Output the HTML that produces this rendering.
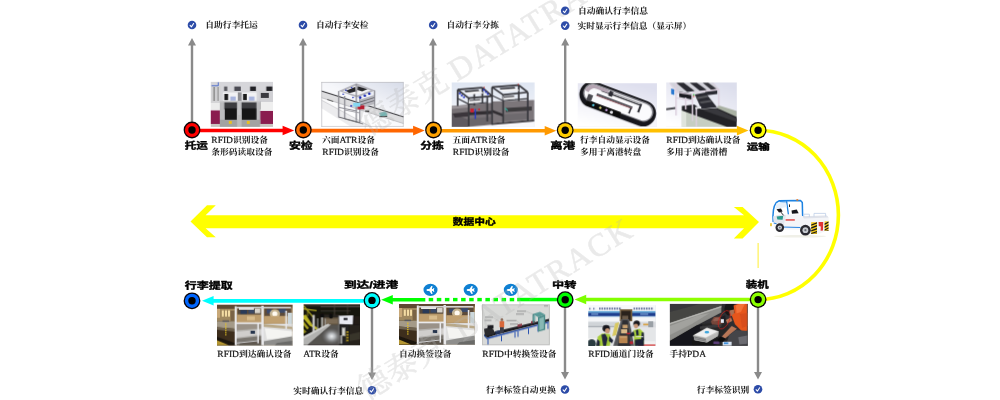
<!DOCTYPE html>
<html lang="zh">
<head>
<meta charset="utf-8">
<title>RFID 行李全流程跟踪</title>
<style>
html,body{margin:0;padding:0;background:#fff}
body{width:1000px;height:400px;overflow:hidden;font-family:"Liberation Serif","Noto Serif CJK SC",serif}
svg{display:block;will-change:transform}
text{font-family:"Liberation Serif","Noto Serif CJK SC",serif;font-weight:bold;text-rendering:geometricPrecision}
.c{fill:#151515;stroke:none}
.l{fill:#151515;font-weight:normal;stroke:#151515;stroke-width:.22px}
.hd text{font-family:"Liberation Sans","Noto Sans CJK SC",sans-serif;font-weight:bold;fill:#000;stroke:#000;stroke-width:.4px;stroke-linejoin:round}
</style>
</head>
<body>
<svg width="1000" height="400" viewBox="0 0 1000 400">
<defs>
<linearGradient id="g67" gradientUnits="userSpaceOnUse" x1="758" y1="0" x2="575" y2="0"><stop offset="0" stop-color="#99ff00"/><stop offset="1" stop-color="#7cff00"/></linearGradient>

<filter id="soft" x="-5%" y="-5%" width="110%" height="110%"><feGaussianBlur stdDeviation="0.45"/></filter>
<filter id="soft2" x="-5%" y="-5%" width="110%" height="110%"><feGaussianBlur stdDeviation="0.3"/></filter>
<radialGradient id="p11spot"><stop offset="0" stop-color="#f0f2f4"/><stop offset="0.35" stop-color="#c4c8cc" stop-opacity="0.85"/><stop offset="1" stop-color="#707070" stop-opacity="0"/></radialGradient>
<linearGradient id="p2bg" x1="1" y1="0" x2="0.35" y2="0.8"><stop offset="0" stop-color="#d6dbe8"/><stop offset="0.6" stop-color="#f5f6fa"/><stop offset="1" stop-color="#ffffff"/></linearGradient>
<linearGradient id="p3bg" x1="0" y1="0" x2="0" y2="1"><stop offset="0" stop-color="#dfe6f2"/><stop offset="1" stop-color="#f9f9fc"/></linearGradient>
<linearGradient id="p4bg" x1="0.7" y1="0" x2="0.3" y2="1"><stop offset="0" stop-color="#dedfee"/><stop offset="0.7" stop-color="#f6f6fb"/><stop offset="1" stop-color="#ffffff"/></linearGradient>
<linearGradient id="p5bg" x1="0.8" y1="0" x2="0.2" y2="1"><stop offset="0" stop-color="#dcdeec"/><stop offset="0.7" stop-color="#f4f4fa"/><stop offset="1" stop-color="#ffffff"/></linearGradient>
</defs>
<path d="M190.8 124 V45.6 H188 L192 38 L196 45.6 H193.2 V124Z" fill="#8a8a8a"/>
<path d="M301.8 124 V45.6 H299 L303 38 L307 45.6 H304.2 V124Z" fill="#8a8a8a"/>
<path d="M431.8 124 V45.6 H429 L433 38 L437 45.6 H434.2 V124Z" fill="#8a8a8a"/>
<path d="M564 124 V45.6 H561.2 L565.2 38 L569.2 45.6 H566.4 V124Z" fill="#8a8a8a"/>
<path d="M370.8 306 V372.4 H368 L372 380 L376 372.4 H373.2 V306Z" fill="#8a8a8a"/>
<path d="M563.8 306 V371.9 H561 L565 379.5 L569 371.9 H566.2 V306Z" fill="#8a8a8a"/>
<path d="M756.8 306 V371.9 H754 L758 379.5 L762 371.9 H759.2 V306Z" fill="#8a8a8a"/>
<rect x="757.6" y="243" width="1" height="25" fill="#ffee33"/>
<path d="M190.5 221.5 L207 205.3 H215.8 L205.6 215.2 H744 L733.8 207 H742.6 L759 222 L742.6 238.5 H733.8 L744 228.3 H205.6 L215.8 237.3 H207Z" fill="#ffff00"/>
<path d="M758 130.3 A80.4 84.6 0 0 1 758 299.5" fill="none" stroke="#ffff00" stroke-width="3.6"/>
<svg x="210.8" y="81.9" width="62.2" height="44.8" viewBox="0 0 62.2 44.8"><rect x="-2" y="-2" width="66.2" height="48.8" fill="#e4e4e8"/><g filter="url(#soft)"><rect x="-2" y="-2" width="67" height="22" fill="#d6d6da"/><rect x="13.3" y="4.6" width="3.2" height="4.4" fill="#5a5a60"/><rect x="23.5" y="4.6" width="6.5" height="4.4" fill="#4c4c52"/><rect x="39.3" y="4.6" width="5.8" height="4.4" fill="#222226"/><rect x="55.5" y="4.6" width="6" height="4.4" fill="#222226"/><rect x="0" y="4" width="10" height="17" fill="#d4d4d6"/><rect x="2.5" y="5" width="1.6" height="14" fill="#8a8a8a"/><rect x="6.5" y="5" width="1.4" height="14" fill="#9a9a9a"/><rect x="48" y="9" width="15" height="11" fill="#d0d0d4"/><rect x="50" y="11" width="8" height="5" fill="#3a3a40"/><rect x="12" y="10.5" width="15" height="9.5" fill="#f2f2f4"/><rect x="30.7" y="10.5" width="15" height="9.5" fill="#f2f2f4"/><rect x="27" y="10.5" width="3.7" height="9.5" fill="#8e8e92"/><rect x="13.5" y="12" width="3.8" height="6.2" fill="#1a1a1e"/><rect x="32.2" y="12" width="3.8" height="6.2" fill="#1a1a1e"/><rect x="19.5" y="14.6" width="5.4" height="4.2" fill="#a8b4de"/><rect x="38.2" y="14.6" width="5.4" height="4.2" fill="#a8b4de"/><rect x="-1" y="21" width="10" height="8" fill="#ececec"/><rect x="49.5" y="20" width="14" height="9.5" fill="#efefef"/><rect x="-1" y="28.5" width="10" height="13.5" fill="#8a1a50"/><rect x="48.7" y="29" width="15" height="13" fill="#8a1a50"/><rect x="9" y="19.5" width="40.5" height="8" fill="#5a5a5e"/><rect x="13.5" y="20.5" width="13" height="6.5" fill="#3c3c40"/><rect x="30.7" y="20.5" width="15" height="6.5" fill="#3c3c40"/><rect x="13.8" y="26.5" width="12.6" height="11.5" fill="#141416"/><rect x="30.7" y="26.5" width="15.3" height="11.5" fill="#141416"/><rect x="9" y="19" width="4.5" height="27" fill="#bcbcbe"/><rect x="26.2" y="19" width="4.5" height="27" fill="#c4c4c6"/><rect x="45.7" y="19" width="3.8" height="27" fill="#bcbcbe"/><rect x="9" y="18.8" width="40.5" height="1.6" fill="#c8c8ca"/><rect x="9" y="37.8" width="40.5" height="8" fill="#a2a2a2"/><rect x="26.2" y="33" width="4.5" height="13" fill="#bcbcbc"/><rect x="18" y="39" width="3" height="3" fill="#e8c020"/><rect x="36" y="39" width="3" height="3" fill="#e8c020"/><rect x="-1" y="42" width="10" height="4" fill="#c8c4c0"/><rect x="49.5" y="42" width="14" height="4" fill="#c8c4c0"/><path d="M0.7 3.8 H7.4 V0.4" fill="none" stroke="#2a50c8" stroke-width="0.8"/></g></svg><svg x="321.2" y="81.9" width="82.5" height="45" viewBox="0 0 82.5 45"><rect x="-2" y="-2" width="86.5" height="49" fill="#fff"/><g filter="url(#soft)"><rect x="0" y="0" width="82.5" height="45" fill="url(#p2bg)"/><polygon points="0,9.3 82.5,35.3 82.5,41.5 0,15.5" fill="#dedee0"/><line x1="0" y1="9.1" x2="82.5" y2="35.1" stroke="#3c3c40" stroke-width="1.1"/><line x1="0" y1="15.6" x2="82.5" y2="41.6" stroke="#b4b4b8" stroke-width="0.8"/><polygon points="0,18 50,45 30,45 0,26" fill="#ececee"/><line x1="0" y1="18" x2="50" y2="45" stroke="#c4c4c8" stroke-width="0.7"/><line x1="6" y1="17.5" x2="12" y2="19.5" stroke="#555" stroke-width="0.9"/><polygon points="17.5,9.1 35.1,1.3 54,8.5 35.8,15.6" fill="#b4b4bc"/><polygon points="21.5,9.3 34.8,3.4 49.5,8.6 35.8,13.4" fill="#f4f4f6"/><polygon points="24.7,8.8 34,5 34.5,9.6 28,11.2" fill="#26262a"/><polygon points="36.4,4.3 46.2,7.2 41,9.4 36.2,8" fill="#26262a"/><line x1="17.5" y1="9.1" x2="17.5" y2="35.5" stroke="#8c8c94" stroke-width="1.3"/><line x1="35.1" y1="2" x2="35.1" y2="40.5" stroke="#8c8c94" stroke-width="1.3"/><line x1="53.4" y1="8.5" x2="53.4" y2="26" stroke="#8c8c94" stroke-width="1.3"/><line x1="23.5" y1="14" x2="23.5" y2="37" stroke="#8c8c94" stroke-width="1.3"/><line x1="38.6" y1="15" x2="38.6" y2="41" stroke="#8c8c94" stroke-width="1.3"/><line x1="17.5" y1="25.4" x2="35.5" y2="29" stroke="#8c8c94" stroke-width="1"/><line x1="17.5" y1="35.1" x2="38.6" y2="40.6" stroke="#66666c" stroke-width="1"/><line x1="23.5" y1="28" x2="38.6" y2="31" stroke="#9a9aa0" stroke-width="0.9"/><line x1="23.5" y1="37" x2="42" y2="42" stroke="#77777c" stroke-width="0.9"/><polygon points="39,17.5 53,13 53,22 39,26.5" fill="#b8b8c0"/><line x1="39" y1="20" x2="53" y2="15.6" stroke="#66666c" stroke-width="0.9"/><line x1="39" y1="23" x2="53" y2="18.6" stroke="#66666c" stroke-width="0.9"/><circle cx="39" cy="15.6" r="1.3" fill="#1c2cb4"/><circle cx="43.6" cy="13.7" r="1.3" fill="#1c2cb4"/><circle cx="48.1" cy="11.7" r="1.3" fill="#1c2cb4"/><circle cx="30.5" cy="5.8" r="0.8" fill="#1c2cb4"/><circle cx="24.7" cy="8.4" r="0.8" fill="#1c2cb4"/><circle cx="22" cy="12.3" r="0.8" fill="#1c2cb4"/><circle cx="31.8" cy="15.6" r="0.8" fill="#1c2cb4"/><circle cx="30" cy="24" r="0.9" fill="#1c2cb4"/><rect x="36.4" y="23.4" width="6.8" height="4" fill="#b61e2e"/><rect x="31.9" y="20.8" width="7.2" height="3.9" fill="#86d8f2"/><polygon points="57.9,31 64,29.5 66,31.5 66,34.5 59.5,35" fill="#74b4b2"/><line x1="58" y1="34.8" x2="66" y2="34.4" stroke="#333" stroke-width="0.9"/><rect x="44" y="28.5" width="4" height="1.6" fill="#444"/><rect x="0.3" y="0.3" width="81.9" height="44.4" fill="none" stroke="#bcbcc0" stroke-width="0.7"/></g></svg><svg x="451.75" y="82.5" width="82.45" height="44.3" viewBox="0 0 82.45 44.3"><rect x="-2" y="-2" width="86.45" height="48.3" fill="#eef2f8"/><g filter="url(#soft)"><rect x="0" y="0" width="82.5" height="44.4" fill="url(#p3bg)"/><polygon points="0,23.6 40.3,20.2 40.3,42.3 16,44.4 0,44.4" fill="#787276"/><polygon points="40.3,19 82.5,17.6 82.5,37 40.3,40.4" fill="#7c767a"/><polygon points="0,23.6 17,22.2 17,25 0,26.6" fill="#9a9498"/><polygon points="0,30.5 16,37 16,44.4 0,44.4" fill="#5e5a60"/><polygon points="1,31 16,29.5 16,34 3,35" fill="#3a363a"/><polygon points="17,29.6 40,28.2 40,31.4 17,32.8" fill="#302e32"/><polygon points="54,25.6 80,24 80,28 54,29.6" fill="#3c3a3e"/><polygon points="41,27.6 52,31.8 52,34.4 41,30.2" fill="#302e32"/><polygon points="40.3,40.4 82.5,37 82.5,39 40.3,42.6" fill="#444246"/><polygon points="17,36 39,34.5 39,41.5 17,43.5" fill="#6a666a"/><polygon points="52,32 76,30.4 76,36.5 52,38.6" fill="#6e6a6e"/><line x1="5.9" y1="7.2" x2="5.9" y2="23.4" stroke="#38383e" stroke-width="1.7"/><line x1="16.9" y1="15.6" x2="16.9" y2="44" stroke="#38383e" stroke-width="1.7"/><line x1="30.6" y1="5.2" x2="30.6" y2="21" stroke="#38383e" stroke-width="1.7"/><line x1="40.3" y1="4.6" x2="40.3" y2="42.3" stroke="#38383e" stroke-width="1.7"/><line x1="51.4" y1="12.4" x2="51.4" y2="41" stroke="#38383e" stroke-width="1.7"/><line x1="67" y1="2.6" x2="67" y2="18.4" stroke="#38383e" stroke-width="1.7"/><line x1="76" y1="9.75" x2="76" y2="38.4" stroke="#38383e" stroke-width="1.7"/><line x1="22.5" y1="9.5" x2="22.5" y2="23" stroke="#38383e" stroke-width="1.7"/><line x1="35.5" y1="14" x2="35.5" y2="39" stroke="#38383e" stroke-width="1.7"/><line x1="5.9" y1="7.2" x2="30.6" y2="5.2" stroke="#38383e" stroke-width="1.7"/><line x1="5.9" y1="7.2" x2="16.9" y2="15.6" stroke="#38383e" stroke-width="1.7"/><line x1="16.9" y1="15.6" x2="40.3" y2="13.7" stroke="#38383e" stroke-width="1.7"/><line x1="30.6" y1="5.2" x2="40.3" y2="13.7" stroke="#38383e" stroke-width="1.7"/><line x1="40.3" y1="4.6" x2="67" y2="2.6" stroke="#38383e" stroke-width="1.7"/><line x1="40.3" y1="4.6" x2="51.4" y2="12.4" stroke="#38383e" stroke-width="1.7"/><line x1="51.4" y1="12.4" x2="76" y2="9.75" stroke="#38383e" stroke-width="1.7"/><line x1="67" y1="2.6" x2="76" y2="9.75" stroke="#38383e" stroke-width="1.7"/><line x1="5.9" y1="16" x2="16.9" y2="21.6" stroke="#38383e" stroke-width="1.2"/><line x1="16.9" y1="21.6" x2="36" y2="20" stroke="#38383e" stroke-width="1.2"/><line x1="51.4" y1="18.2" x2="76" y2="16.2" stroke="#38383e" stroke-width="1.2"/><line x1="40.3" y1="13" x2="51.4" y2="18.2" stroke="#38383e" stroke-width="1.1"/><polygon points="11,8.6 27,7.4 32,10.8 16.5,12.2" fill="#f2f2f4"/><polygon points="46,6 63,4.8 68,8.2 51.5,9.6" fill="#f2f2f4"/><polygon points="12.5,8.3 26.5,7.2 27.8,8.6 13.8,9.7" fill="#26262c"/><polygon points="47.5,5.7 62.5,4.6 63.8,6 48.8,7.1" fill="#26262c"/><polygon points="16.9,17.2 29,16.2 29,20 16.9,21" fill="#e8e8ea"/><polygon points="51.4,13.8 63,12.8 63,16.6 51.4,17.6" fill="#e8e8ea"/><polygon points="17.5,17.4 28.4,16.5 28.4,17.7 17.5,18.6" fill="#4a4a50"/><polygon points="52,14 62.4,13.1 62.4,14.3 52,15.2" fill="#4a4a50"/><circle cx="8" cy="11" r="1" fill="#2232c4"/><circle cx="10" cy="13" r="1" fill="#2232c4"/><circle cx="12.2" cy="14.8" r="1" fill="#2232c4"/><circle cx="32" cy="7.6" r="1" fill="#2232c4"/><circle cx="34.2" cy="9.6" r="1" fill="#2232c4"/><circle cx="36" cy="11.4" r="1" fill="#2232c4"/><rect x="18.6" y="26" width="3.4" height="4" fill="#c82030"/><rect x="22.8" y="26.5" width="1.4" height="10" fill="#2838c8"/><rect x="26.5" y="26" width="1.6" height="1.8" fill="#c82030"/><line x1="53.2" y1="25.6" x2="56" y2="28.4" stroke="#38b0a0" stroke-width="1.3"/><circle cx="32.4" cy="5" r="0.7" fill="#c03030"/><circle cx="66.5" cy="2" r="0.7" fill="#c03030"/></g></svg><svg x="577.8" y="83.25" width="79.2" height="43.55" viewBox="0 0 79.2 43.55"><rect x="-2" y="-2" width="83.2" height="47.55" fill="#eeeef6"/><g filter="url(#soft)"><rect x="0" y="0" width="79.2" height="43.6" fill="url(#p4bg)"/><g transform="translate(39.9 20.8) rotate(20.5)"><rect x="-40" y="-12.4" width="80" height="26" rx="13" fill="#c4c4ca"/><rect x="-40" y="-13.2" width="80" height="26" rx="13" fill="#17171a"/><rect x="-36.8" y="-11.2" width="73.6" height="19.2" rx="9.6" fill="#8e8e96"/><rect x="-35.4" y="-9.8" width="70.8" height="16.8" rx="8.4" fill="#fbfbfd"/><rect x="-20" y="-7.6" width="42" height="1.5" fill="#3a3a40"/><rect x="-23" y="-2.8" width="38" height="2.0" fill="#55555c"/><rect x="-23" y="-1.0" width="38" height="0.8" fill="#8c4a52"/><rect x="-8" y="-8.8" width="31" height="1.2" fill="#a0a0a6"/><rect x="21" y="-8" width="2" height="8.6" fill="#2a2a30"/><rect x="13" y="-1" width="1.6" height="6" fill="#2a2a30"/><rect x="-12" y="-9.6" width="4" height="5" fill="#2a2a30"/><path d="M-35.4 -1.4 A8.4 8.4 0 0 1 -27 -9.8 H-13 V-6.8 H-25.5 A6 6 0 0 0 -31.5 -0.8Z" fill="#b4a4b2"/><rect x="-30" y="6.6" width="36" height="5.6" fill="#0c0c0e"/><circle cx="-22.5" cy="9.6" r="1.2" fill="#58d0e8"/><circle cx="-15" cy="9.6" r="1.2" fill="#e8e080"/><circle cx="-8.5" cy="9.6" r="1.2" fill="#c8a0e0"/><circle cx="-3" cy="10" r="1.6" fill="#e8e8ee"/><rect x="-31" y="0.5" width="5" height="7" fill="#4a4a50"/></g></g></svg><svg x="666.25" y="82.5" width="70.45" height="44.3" viewBox="0 0 70.45 44.3"><rect x="-2" y="-2" width="74.45" height="48.3" fill="#f0f0f6"/><g filter="url(#soft)"><rect x="0" y="0" width="70.5" height="44.4" fill="url(#p5bg)"/><polygon points="0,25.8 9.5,24.6 9.5,26.6 0,27.8" fill="#4a4a50"/><polygon points="15.6,27.5 61,43.8 61,44.4 15.6,44.4" fill="#c6cec2"/><polygon points="15.6,27.5 20,29 20,44.4 15.6,44.4" fill="#dfe4dc"/><polygon points="52,22.8 70.5,28.4 70.5,35 50.7,25.8" fill="#aab2a4"/><polygon points="15.6,23.4 28,22.1 35.1,26.7 50.7,25.4 70.5,34.5 70.5,44.4 61,44.4 15.6,28" fill="#232326"/><polygon points="36,27.5 50,26.3 70.5,36 70.5,39.5" fill="#38383c"/><polygon points="28.6,11.9 39,9.9 50.7,24.8 35.1,26.4" fill="#2c2c30"/><polygon points="30.6,14.8 41,12.8 42.4,14.6 32,16.6" fill="#5a5a60"/><polygon points="33.4,19.2 44.6,17.4 46,19.2 34.8,21" fill="#56565c"/><polygon points="3.5,0.3 47,0.3 53,7 12,10" fill="#d2d2da"/><polygon points="10,0.3 17.5,0.3 28.5,8.6 21,9.4" fill="#2c2c32"/><polygon points="23.5,0.3 30.5,0.3 40.5,7.6 33.6,8.3" fill="#2c2c32"/><polygon points="36.5,0.3 42,0.3 50.5,6.6 45,7.2" fill="#34343a"/><polygon points="13,9.3 25.4,11.2 25.4,17 13,14.6" fill="#1e1e22"/><polygon points="39,8.8 51,7.4 51,11.6 39,13" fill="#2a2a30"/><line x1="9.8" y1="0.6" x2="9.8" y2="33" stroke="#dcd0de" stroke-width="1.5"/><line x1="26.3" y1="12" x2="26.3" y2="38.5" stroke="#dcd0de" stroke-width="1.5"/><line x1="30.2" y1="25" x2="30.2" y2="44.2" stroke="#dcd0de" stroke-width="1.5"/><line x1="52.6" y1="7" x2="52.6" y2="23.4" stroke="#dcd0de" stroke-width="1.5"/><line x1="19.5" y1="15" x2="19.5" y2="27" stroke="#dcd0de" stroke-width="1.5"/><line x1="9.8" y1="9.6" x2="26.3" y2="12.2" stroke="#dcd0de" stroke-width="1.3"/><line x1="26.3" y1="10.4" x2="52.6" y2="7" stroke="#dcd0de" stroke-width="1.3"/><line x1="3.5" y1="0.5" x2="9.8" y2="9.6" stroke="#dcd0de" stroke-width="1"/><line x1="9.8" y1="15.4" x2="26.3" y2="18.4" stroke="#dcd0de" stroke-width="1"/><line x1="47" y1="0.4" x2="52.6" y2="7" stroke="#dcd0de" stroke-width="1"/><polygon points="29,24.5 35,24 35,26 29,26.6" fill="#ececf0"/><polygon points="4.9,5.9 8,7 8,12.6 4.9,11.4" fill="#2a78d0"/><circle cx="27.6" cy="12.4" r="0.8" fill="#30c040"/><circle cx="27.6" cy="13.9" r="0.7" fill="#d03030"/></g></svg><svg x="588.25" y="305.2" width="67.15" height="40.8" viewBox="0 0 67.15 40.8"><rect x="-2" y="-2" width="71.15" height="44.8" fill="#f4f5f7"/><g filter="url(#soft)"><rect x="-1" y="-1" width="70" height="44" fill="#eceef0"/><rect x="0" y="0" width="67.2" height="4.5" fill="#f6f8fa"/><rect x="0" y="3.5" width="67.2" height="17" fill="#f5f6f8"/><rect x="0" y="5.9" width="67.2" height="1.9" fill="#5aa2d6"/><rect x="0" y="7.6" width="67.2" height="3.3" fill="#1c3e8e"/><rect x="0" y="10.9" width="67.2" height="0.8" fill="#9cc2e2"/><rect x="3" y="8.2" width="7" height="1.5" fill="#6a90c8"/><rect x="52" y="8.2" width="8" height="1.5" fill="#6a90c8"/><rect x="11" y="2.4" width="1.3" height="2" fill="#3c4c84"/><rect x="13.5" y="2.4" width="1.3" height="2" fill="#3c4c84"/><rect x="16" y="2.4" width="1.3" height="2" fill="#3c4c84"/><rect x="18.5" y="2.4" width="1.3" height="2" fill="#3c4c84"/><rect x="21" y="2.4" width="1.3" height="2" fill="#3c4c84"/><rect x="23.5" y="2.4" width="1.3" height="2" fill="#3c4c84"/><rect x="26" y="2.4" width="1.3" height="2" fill="#3c4c84"/><rect x="28.5" y="2.4" width="1.3" height="2" fill="#3c4c84"/><rect x="31" y="2.4" width="1.3" height="2" fill="#3c4c84"/><rect x="45.5" y="2.4" width="1.3" height="2" fill="#3c4c84"/><rect x="48" y="2.4" width="1.3" height="2" fill="#3c4c84"/><rect x="50.5" y="2.4" width="1.3" height="2" fill="#3c4c84"/><rect x="53" y="2.4" width="1.3" height="2" fill="#3c4c84"/><rect x="55.5" y="2.4" width="1.3" height="2" fill="#3c4c84"/><rect x="58" y="2.4" width="1.3" height="2" fill="#3c4c84"/><rect x="60.5" y="2.4" width="1.3" height="2" fill="#3c4c84"/><rect x="63" y="2.4" width="1.3" height="2" fill="#3c4c84"/><rect x="1" y="2.6" width="1.2" height="1.8" fill="#5a6a98"/><rect x="5" y="2.6" width="1.2" height="1.8" fill="#5a6a98"/><rect x="31.6" y="4" width="12.5" height="12" fill="#7a6242"/><rect x="33" y="5.6" width="9.6" height="9.6" fill="#2a221c"/><rect x="34" y="10.5" width="6" height="4.5" fill="#6a5a48"/><rect x="0" y="16.5" width="31" height="4.5" fill="#d0d4d8"/><rect x="43.6" y="16.5" width="24" height="6" fill="#d8dade"/><rect x="0" y="20.8" width="26" height="1.4" fill="#a8aeb4"/><rect x="55" y="18.5" width="8" height="1.6" fill="#d8a040"/><rect x="60" y="16" width="5" height="6" fill="#9aa0a6"/><rect x="0" y="22.4" width="67.2" height="19" fill="#e4e6e8"/><rect x="0" y="33" width="8" height="8" fill="#f2f2f2"/><rect x="44" y="36" width="23.2" height="3.6" fill="#f0f0f0"/><rect x="50" y="39.2" width="17.2" height="1.6" fill="#d85050"/><polygon points="33,14 41,14 46,40.8 25,40.8" fill="#55565a"/><polygon points="34.5,15 39.5,15 42.5,40.8 29.5,40.8" fill="#2e2f33"/><polygon points="27,18 31,17 28,30 24,31" fill="#d8c860"/><rect x="34.3" y="19.5" width="5.2" height="3.6" fill="#c8a070"/><rect x="32.8" y="24" width="6.2" height="4.2" fill="#d8b888"/><rect x="30.8" y="30.5" width="8.6" height="7.5" fill="#b88450"/><rect x="31.6" y="31.2" width="7" height="1.2" fill="#d8b080"/><ellipse cx="18" cy="23.2" rx="3.7" ry="3.4" fill="#18181c"/><ellipse cx="19.2" cy="25.6" rx="2.4" ry="2.6" fill="#c89878"/><polygon points="8.5,40.8 9.5,31.5 14,28.2 21.5,28.8 22.8,33 21.5,40.8" fill="#a6cc38"/><polygon points="13.2,29.5 17,28.5 19.4,33 17.8,40.8 15,40.8" fill="#20283c"/><polygon points="8,40.8 9,34 11.5,36 11.5,40.8" fill="#1c2438"/><polygon points="21,31 25,35 24,38 20.6,36" fill="#1c2438"/><ellipse cx="3.5" cy="38.5" rx="4.2" ry="4.6" fill="#2a3a40"/><ellipse cx="48.5" cy="18.2" rx="3.2" ry="3" fill="#18181c"/><ellipse cx="47.8" cy="20.8" rx="2.2" ry="2.4" fill="#c89878"/><polygon points="45.2,25 51.5,23.6 55.2,27 55.6,39 46.5,40.4" fill="#a6cc38"/><polygon points="47.5,25 50,24.4 50.5,30 48.4,30.5" fill="#1c2438"/><polygon points="45.4,26 41,29.5 42.2,31.5 46.5,30.5" fill="#1c2438"/><polygon points="53.5,27 55.6,27.5 55.8,35 53,35" fill="#1c2438"/><polygon points="46.5,34.5 55.6,33.5 55.6,40.8 46.5,40.8" fill="#1a2034"/><rect x="38.5" y="27.6" width="3.6" height="1.5" fill="#c02030"/><rect x="41.5" y="36.2" width="3.2" height="2.6" fill="#c02030"/><rect x="47.5" y="31" width="7.5" height="0.9" fill="#e8e8e8"/></g></svg><svg x="669.85" y="303.9" width="77.25" height="41.6" viewBox="0 0 77.25 41.6"><rect x="-2" y="-2" width="81.25" height="45.6" fill="#2e2e30"/><g filter="url(#soft)"><rect x="-1" y="-1" width="80" height="44" fill="#2e2e30"/><polygon points="0,0 52,0 52,3 0,19.5" fill="#454543"/><polygon points="0,0 30,0 0,8" fill="#38383a"/><polygon points="0,18.9 51.4,2 51.4,8.5 26.7,21.5 0,37" fill="#8e8e8a"/><polygon points="0,22 28,11.5 40,9 22,20 0,31" fill="#a2a29e"/><polygon points="0,18.9 51.4,2 51.4,3.4 0,20.6" fill="#b4b4b0"/><polygon points="0,37 26.7,21.5 33,20 24,41.6 0,41.6" fill="#18181a"/><polygon points="24,41.6 33,20 56,18 62,30 56,41.6" fill="#262628"/><polygon points="30,22.5 52,20 51,23 30,25" fill="#3a3a3c"/><polygon points="41,17.5 44,13 52.7,12.6 53.5,19.2 49,21 42,20.4" fill="#74463a"/><polygon points="43,16 45.5,13.8 51,13.6 50,16.4 44,17.6" fill="#946052"/><polygon points="23.4,31.2 37,23.4 48.8,27.3 48.1,31.9 37,38.4 24.7,36.2" fill="#c8c8c6"/><polygon points="24.6,31 37,24.4 47.4,27.6 36,33.6" fill="#efefef"/><polygon points="23.4,31.4 36,34.2 37,38.4 24.7,36.2" fill="#a4a4a2"/><line x1="24" y1="33" x2="36.4" y2="35.8" stroke="#66666a" stroke-width="0.7"/><line x1="24.4" y1="34.6" x2="36.6" y2="37.2" stroke="#66666a" stroke-width="0.6"/><polygon points="36,34.2 48.4,28.6 48.1,31.9 37,38.4" fill="#b8b8b6"/><ellipse cx="37" cy="28.2" rx="2.3" ry="1.2" fill="#3aa4dc"/><polygon points="22,36.5 37,39.2 50,33 54,36 44,41.6 23,41.6" fill="#141416"/><rect x="43.5" y="37.5" width="6" height="2.6" fill="#5a3e78"/><polygon points="50.4,13 55.2,11.6 56,17.6 51.4,19.6" fill="#1c1c22"/><rect x="51" y="15.2" width="3" height="3.7" fill="#e8eef8"/><ellipse cx="60" cy="5" rx="5.4" ry="6.6" fill="#121214"/><polygon points="59.4,6.4 64.4,5.6 64.4,11.8 60.2,12" fill="#ac7052"/><polygon points="63.6,1.6 68,0 77.3,0 77.3,26.8 72.2,27.4 65,20.2 61.8,11.6 64.6,9" fill="#e6561e"/><polygon points="66,1.6 70,0 75,0 71,8 66.5,9.6" fill="#f47238"/><polygon points="70,10 77.3,9 77.3,22 72,24" fill="#d84e1a"/><polygon points="61.8,22.1 67,24.7 55.3,34.5 52,32.5" fill="#b87858"/><polygon points="56,16 61,13.6 62.4,17 57.4,19.4" fill="#b87858"/><polygon points="59.2,31 66,26 77.3,27 77.3,41.6 56,41.6" fill="#444448"/><polygon points="68.3,33.2 77.3,31.6 77.3,39.7 69.5,40.6" fill="#6c6c72"/><rect x="52.7" y="37.8" width="9" height="3.8" fill="#dce6f2"/><rect x="54" y="38.4" width="4.4" height="1.8" fill="#3c90dc"/><polygon points="50,32.6 56,35 53,38 48,37" fill="#0e0e10"/><ellipse cx="54.3" cy="15.8" rx="5.0" ry="9.8" transform="rotate(24 54.3 15.8)" fill="none" stroke="#c8221e" stroke-width="0.7"/></g></svg><svg x="399" y="304" width="75.7" height="40.6" viewBox="0 0 75.5 40.5" preserveAspectRatio="none"><rect x="-2" y="-2" width="80" height="45" fill="#927a58"/><g filter="url(#soft)"><rect x="-1" y="-1" width="78" height="43" fill="#927a58"/><rect x="0" y="0" width="75.5" height="4.2" fill="#5e4a32"/><rect x="0" y="4" width="18" height="13" fill="#a0885e"/><rect x="4.8" y="5.6" width="2" height="6.2" fill="#f4dca4"/><rect x="8" y="5.6" width="2" height="6.2" fill="#f4dca4"/><rect x="11" y="5.6" width="2" height="6.2" fill="#f4dca4"/><rect x="0" y="4" width="3" height="9" fill="#c8a878"/><rect x="13.6" y="6" width="4" height="10" fill="#7a6444"/><rect x="19" y="2.5" width="56.5" height="17" fill="#b2946a"/><rect x="20.5" y="3.4" width="24" height="6.2" fill="#54483a"/><rect x="22" y="2.8" width="15" height="2.2" fill="#ecebe6"/><rect x="23.5" y="5.2" width="6.5" height="4" fill="#2c3a58"/><rect x="31.5" y="5" width="6" height="3.6" fill="#3a4866"/><rect x="38" y="4" width="5.5" height="4.5" fill="#d8d4cc"/><rect x="47.5" y="3.4" width="27" height="8" fill="#5c4c3a"/><rect x="50" y="4.6" width="5" height="4" fill="#3a4a6c"/><rect x="62" y="4" width="7" height="4" fill="#3e4c68"/><ellipse cx="58" cy="9" rx="5.2" ry="4.6" fill="#f2deb0" opacity="0.7"/><ellipse cx="58" cy="9" rx="2.6" ry="2.5" fill="#fffaf0"/><rect x="47.5" y="11.4" width="22" height="7" fill="#c0a070"/><rect x="71" y="8" width="4.5" height="15" fill="#ccd8dc"/><rect x="20.5" y="10.5" width="24" height="7.5" fill="#bc9c6c"/><rect x="30" y="11.5" width="8" height="4" fill="#d8bc8c"/><polygon points="18.7,19 46,19 46,40.5 18.7,40.5" fill="#b4b2ae"/><polygon points="18.7,19 46,19 46,23.5 18.7,25.5" fill="#9a9288"/><polygon points="18.7,27 46,24.5 46,29.5 18.7,33" fill="#d0cecc"/><polygon points="18.7,34 46,31 46,40.5 18.7,40.5" fill="#7a7670"/><polygon points="24,37 46,35 46,40.5 22,40.5" fill="#5e5850"/><rect x="33.7" y="26" width="4.4" height="3" fill="#28344e"/><polygon points="46,19 75.5,19 75.5,40.5 46,40.5" fill="#dedede"/><polygon points="46,19 75.5,22 75.5,24.5 46,22" fill="#b8a888"/><polygon points="48,23.5 75.5,26.5 75.5,33 50,34.5" fill="#f4f4f2"/><polygon points="47,36.5 75.5,31.5 75.5,40.5 47,40.5" fill="#8e8e8c"/><polygon points="60,38.2 75.5,36 75.5,40.5 58,40.5" fill="#6a6a68"/><polygon points="0,16.6 18.7,16.6 18.7,40.5 0,40.5" fill="#3c2e1e"/><polygon points="0,16.6 18.7,16.6 18.7,24 0,22.5" fill="#a49a88"/><polygon points="0,22.5 18.7,24 18.7,27 0,25" fill="#6e6250"/><polygon points="0,32 18.7,38.5 18.7,40.5 0,40.5" fill="#1e1810"/><polygon points="0,35.5 12,40.5 0,40.5" fill="#b49630"/><rect x="5.5" y="15.6" width="6.5" height="1.5" fill="#5c5c5e"/><rect x="8.1" y="18.6" width="1.4" height="1.15" fill="#e6c424"/><rect x="8.1" y="20.75" width="1.4" height="1.15" fill="#e6c424"/><rect x="8.1" y="22.9" width="1.4" height="1.15" fill="#e6c424"/><rect x="8.1" y="25.05" width="1.4" height="1.15" fill="#e6c424"/><rect x="8.1" y="27.2" width="1.4" height="1.15" fill="#e6c424"/><rect x="8.1" y="29.35" width="1.4" height="1.15" fill="#e6c424"/><line x1="18.75" y1="1.5" x2="18.75" y2="40.5" stroke="#eaeaec" stroke-width="2"/><line x1="45.6" y1="1" x2="45.6" y2="40.5" stroke="#eaeaec" stroke-width="2.4"/><line x1="41.2" y1="19" x2="41.2" y2="38.5" stroke="#eaeaec" stroke-width="1.5"/><line x1="69.4" y1="6" x2="69.4" y2="24" stroke="#eaeaec" stroke-width="1.6"/><line x1="18.7" y1="2.75" x2="74" y2="2.75" stroke="#d4d4d6" stroke-width="1.3"/><line x1="18.7" y1="18.4" x2="46" y2="18.4" stroke="#eaeaec" stroke-width="1.7"/><line x1="19" y1="38.4" x2="41" y2="36" stroke="#d0d0d2" stroke-width="1"/></g></svg><svg x="482" y="304.3" width="67.5" height="40.9" viewBox="0 0 67.5 40.9"><rect x="-2" y="-2" width="71.5" height="44.9" fill="#d9dad8"/><g filter="url(#soft)"><rect x="-1" y="-1" width="70" height="43" fill="#d9dad8"/><polygon points="2,30 12,27.5 67,14.5 67,17 14,30.5 5,33.5" fill="#1c1c20"/><polygon points="2,30 5,33.5 5,35 2,31.8" fill="#2a4a9a"/><polygon points="5,33.6 67,17.2 67,18.4 5,35" fill="#2a52b0"/><line x1="6" y1="35" x2="6" y2="40.6" stroke="#2a52b0" stroke-width="1"/><line x1="19.5" y1="31.4" x2="19.5" y2="37" stroke="#2a52b0" stroke-width="1"/><line x1="33" y1="27.8" x2="33" y2="33.4" stroke="#2a52b0" stroke-width="1"/><line x1="36" y1="27" x2="36" y2="32.6" stroke="#2a52b0" stroke-width="1"/><line x1="46.5" y1="24.2" x2="46.5" y2="29.8" stroke="#2a52b0" stroke-width="1"/><line x1="56" y1="21.8" x2="56" y2="27.4" stroke="#2a52b0" stroke-width="1"/><line x1="66" y1="19" x2="66" y2="24.6" stroke="#2a52b0" stroke-width="1"/><polygon points="2,24.5 9,23 12,26 12,30 3,32" fill="#2a2a2e"/><rect x="5.5" y="20.8" width="6" height="3.6" fill="#1e1e22"/><polygon points="13,27 20,25.4 20,29 14,30.5" fill="#20305a"/><rect x="17.6" y="16.8" width="4.6" height="6.2" fill="#d8683a"/><circle cx="19.9" cy="15.4" r="1.4" fill="#8a6a58"/><rect x="18" y="23" width="3.8" height="6" fill="#3a3e4a"/><polygon points="35.5,20.2 40,19.2 40,22 35.5,23" fill="#8a3a48"/><polygon points="49,17 53,16 53,18.6 49,19.6" fill="#8a3a48"/><polygon points="50.6,9.8 58,7.4 63.2,10.2 56,12.8" fill="#5a9a98"/><polygon points="50.6,9.8 52.4,10.4 52.4,19 50.6,18.4" fill="#3c7876"/><polygon points="56,12.8 63.2,10.2 63.2,25.4 56,27.6" fill="#4e8c8a"/><polygon points="57.4,14.2 61.8,12.6 61.8,24.4 57.4,26" fill="#88b8b4"/><polygon points="51.4,11 53.4,11.6 53.4,17 51.4,16.4" fill="#7ab0ae"/><rect x="3" y="12.5" width="8" height="0.9" fill="#8a8a8c"/><rect x="2.5" y="15.6" width="7" height="0.9" fill="#8a8a8c"/><rect x="35" y="6.5" width="9" height="0.9" fill="#8a8a8c"/><rect x="34" y="9.4" width="8" height="0.9" fill="#8a8a8c"/><rect x="24.5" y="15.8" width="10" height="0.9" fill="#8a8a8c"/><rect x="28" y="19.4" width="8" height="0.9" fill="#8a8a8c"/><line x1="11" y1="13" x2="17" y2="17" stroke="#aaa" stroke-width="0.4"/><line x1="44" y1="7" x2="51" y2="10" stroke="#aaa" stroke-width="0.4"/><line x1="34.5" y1="16.4" x2="38" y2="19.5" stroke="#aaa" stroke-width="0.4"/><rect x="62" y="1.2" width="4" height="1" fill="#9a9a9c"/><rect x="0.3" y="0.3" width="66.9" height="40.3" fill="none" stroke="#b4b4b2" stroke-width="0.6"/></g></svg><svg x="217" y="304.7" width="75.2" height="40.5" viewBox="0 0 75.5 40.5" preserveAspectRatio="none"><rect x="-2" y="-2" width="80" height="45" fill="#927a58"/><g filter="url(#soft)"><rect x="-1" y="-1" width="78" height="43" fill="#927a58"/><rect x="0" y="0" width="75.5" height="4.2" fill="#5e4a32"/><rect x="0" y="4" width="18" height="13" fill="#a0885e"/><rect x="4.8" y="5.6" width="2" height="6.2" fill="#f4dca4"/><rect x="8" y="5.6" width="2" height="6.2" fill="#f4dca4"/><rect x="11" y="5.6" width="2" height="6.2" fill="#f4dca4"/><rect x="0" y="4" width="3" height="9" fill="#c8a878"/><rect x="13.6" y="6" width="4" height="10" fill="#7a6444"/><rect x="19" y="2.5" width="56.5" height="17" fill="#b2946a"/><rect x="20.5" y="3.4" width="24" height="6.2" fill="#54483a"/><rect x="22" y="2.8" width="15" height="2.2" fill="#ecebe6"/><rect x="23.5" y="5.2" width="6.5" height="4" fill="#2c3a58"/><rect x="31.5" y="5" width="6" height="3.6" fill="#3a4866"/><rect x="38" y="4" width="5.5" height="4.5" fill="#d8d4cc"/><rect x="47.5" y="3.4" width="27" height="8" fill="#5c4c3a"/><rect x="50" y="4.6" width="5" height="4" fill="#3a4a6c"/><rect x="62" y="4" width="7" height="4" fill="#3e4c68"/><ellipse cx="58" cy="9" rx="5.2" ry="4.6" fill="#f2deb0" opacity="0.7"/><ellipse cx="58" cy="9" rx="2.6" ry="2.5" fill="#fffaf0"/><rect x="47.5" y="11.4" width="22" height="7" fill="#c0a070"/><rect x="71" y="8" width="4.5" height="15" fill="#ccd8dc"/><rect x="20.5" y="10.5" width="24" height="7.5" fill="#bc9c6c"/><rect x="30" y="11.5" width="8" height="4" fill="#d8bc8c"/><polygon points="18.7,19 46,19 46,40.5 18.7,40.5" fill="#b4b2ae"/><polygon points="18.7,19 46,19 46,23.5 18.7,25.5" fill="#9a9288"/><polygon points="18.7,27 46,24.5 46,29.5 18.7,33" fill="#d0cecc"/><polygon points="18.7,34 46,31 46,40.5 18.7,40.5" fill="#7a7670"/><polygon points="24,37 46,35 46,40.5 22,40.5" fill="#5e5850"/><rect x="33.7" y="26" width="4.4" height="3" fill="#28344e"/><polygon points="46,19 75.5,19 75.5,40.5 46,40.5" fill="#dedede"/><polygon points="46,19 75.5,22 75.5,24.5 46,22" fill="#b8a888"/><polygon points="48,23.5 75.5,26.5 75.5,33 50,34.5" fill="#f4f4f2"/><polygon points="47,36.5 75.5,31.5 75.5,40.5 47,40.5" fill="#8e8e8c"/><polygon points="60,38.2 75.5,36 75.5,40.5 58,40.5" fill="#6a6a68"/><polygon points="0,16.6 18.7,16.6 18.7,40.5 0,40.5" fill="#3c2e1e"/><polygon points="0,16.6 18.7,16.6 18.7,24 0,22.5" fill="#a49a88"/><polygon points="0,22.5 18.7,24 18.7,27 0,25" fill="#6e6250"/><polygon points="0,32 18.7,38.5 18.7,40.5 0,40.5" fill="#1e1810"/><polygon points="0,35.5 12,40.5 0,40.5" fill="#b49630"/><rect x="5.5" y="15.6" width="6.5" height="1.5" fill="#5c5c5e"/><rect x="8.1" y="18.6" width="1.4" height="1.15" fill="#e6c424"/><rect x="8.1" y="20.75" width="1.4" height="1.15" fill="#e6c424"/><rect x="8.1" y="22.9" width="1.4" height="1.15" fill="#e6c424"/><rect x="8.1" y="25.05" width="1.4" height="1.15" fill="#e6c424"/><rect x="8.1" y="27.2" width="1.4" height="1.15" fill="#e6c424"/><rect x="8.1" y="29.35" width="1.4" height="1.15" fill="#e6c424"/><line x1="18.75" y1="1.5" x2="18.75" y2="40.5" stroke="#eaeaec" stroke-width="2"/><line x1="45.6" y1="1" x2="45.6" y2="40.5" stroke="#eaeaec" stroke-width="2.4"/><line x1="41.2" y1="19" x2="41.2" y2="38.5" stroke="#eaeaec" stroke-width="1.5"/><line x1="69.4" y1="6" x2="69.4" y2="24" stroke="#eaeaec" stroke-width="1.6"/><line x1="18.7" y1="2.75" x2="74" y2="2.75" stroke="#d4d4d6" stroke-width="1.3"/><line x1="18.7" y1="18.4" x2="46" y2="18.4" stroke="#eaeaec" stroke-width="1.7"/><line x1="19" y1="38.4" x2="41" y2="36" stroke="#d0d0d2" stroke-width="1"/></g></svg><svg x="303.6" y="304.3" width="56.4" height="40.8" viewBox="0 0 56.4 40.8"><rect x="-2" y="-2" width="60.4" height="44.8" fill="#16120e"/><g filter="url(#soft)"><rect x="-1" y="-1" width="60" height="44" fill="#16120e"/><rect x="0" y="0" width="56.7" height="2.4" fill="#2e2920"/><rect x="17" y="1.9" width="39.7" height="1" fill="#55504a"/><rect x="17" y="6.4" width="30" height="0.8" fill="#46413a"/><rect x="30.4" y="0" width="1" height="11" fill="#46413a"/><rect x="43.5" y="0" width="0.9" height="10" fill="#46413a"/><rect x="17" y="10.5" width="19" height="4" fill="#2c2822"/><rect x="19.4" y="13.1" width="16" height="10" fill="#5c4c3a"/><rect x="22" y="14.5" width="12" height="5" fill="#7a6a54"/><ellipse cx="18.6" cy="12" rx="2" ry="2.2" fill="#0c0c0e"/><ellipse cx="27.4" cy="12" rx="2" ry="2.2" fill="#0c0c0e"/><line x1="0" y1="4.6" x2="13" y2="6.4" stroke="#b4ae24" stroke-width="1.1"/><line x1="0" y1="1.5" x2="10.5" y2="14" stroke="#a09a20" stroke-width="1.3"/><polygon points="0,11 2.2,10.2 8.5,20 6.5,22 0,14.5" fill="#bcb626"/><polygon points="6.5,21.4 8.6,20 16.4,25 15,27" fill="#c8c22a"/><polygon points="0,17 5.4,23.8 3.6,25.2 0,21" fill="#a8a220"/><polygon points="0,24.5 3,27.6 0,29.5" fill="#8e881c"/><line x1="4" y1="4.6" x2="4" y2="12" stroke="#9a941e" stroke-width="0.9"/><rect x="8.75" y="10.6" width="2.5" height="18" fill="#c2c2be"/><rect x="17.5" y="13" width="1.9" height="10.5" fill="#b4b4b0"/><rect x="13.4" y="14" width="1.3" height="11" fill="#8e8e8a"/><rect x="21" y="14.2" width="1.2" height="7" fill="#9a9a96"/><polygon points="0,31.9 24.4,19.4 27.6,20.4 4,40.8 0,40.8" fill="#b2b2b0"/><polygon points="0,31.9 24.4,19.4 25.4,20.6 0,34.4" fill="#d2d2d0"/><polygon points="4,40.8 27.6,20.4 35.6,20.6 35.6,40.8" fill="#545250"/><ellipse cx="28" cy="32" rx="10" ry="8.5" fill="url(#p11spot)"/><polygon points="35,11.4 49.6,11 49.2,20.2 35.3,19.8" fill="#e8eaf2"/><rect x="40" y="13.7" width="3.9" height="2" fill="#15151c"/><line x1="35.2" y1="11.4" x2="35.2" y2="39.5" stroke="#7c7c7c" stroke-width="0.9"/><rect x="36.2" y="20.2" width="9.4" height="20.6" fill="#222224"/><rect x="38" y="23" width="4" height="9" fill="#8c8c88"/><rect x="38.8" y="24" width="2.2" height="7" fill="#d4d4d0"/><rect x="42.6" y="27" width="2.3" height="11" fill="#b89c20"/><rect x="42.6" y="28.6" width="2.3" height="1.3" fill="#1e1e1e"/><rect x="42.6" y="31.4" width="2.3" height="1.3" fill="#1e1e1e"/><rect x="42.6" y="34.2" width="2.3" height="1.3" fill="#1e1e1e"/><rect x="42.6" y="37" width="2.3" height="1.3" fill="#1e1e1e"/><rect x="36.6" y="31" width="2" height="8.5" fill="#a8a8a4"/><polygon points="45.8,21 56.7,20.4 56.7,41.2 45.8,41.2" fill="#26221c"/><polygon points="46,30 56.7,27.5 56.7,35 46,37" fill="#38342c"/><rect x="50.4" y="12" width="6.3" height="8.4" fill="#221e18"/></g></svg>
<g filter="url(#soft2)"><ellipse cx="800" cy="236.3" rx="26" ry="1.3" fill="#f0f0e8"/><path d="M773.2 222 C772.6 214 773.6 206 776.2 202.6 L779 200.8 L800.5 200.4 L802.3 202.4 L802.6 216" fill="none" stroke="#1c82e2" stroke-width="1.5" stroke-linejoin="round"/><line x1="786.6" y1="201.2" x2="788.4" y2="214.5" stroke="#1c82e2" stroke-width="1.3"/><line x1="779.5" y1="201.6" x2="786.6" y2="202.2" stroke="#1c82e2" stroke-width="1"/><polygon points="776.5,203.4 786,202.6 786.8,207 775.2,209" fill="#e6f0fa"/><polygon points="773.4,216.5 779,214.8 801,214.6 802.4,216.2 826.8,215.6 828.6,217.5 828.8,229.5 820,233.6 811,234.2 799,229.8 785,229.6 774,226.8" fill="#f4f5f8"/><polygon points="802.4,216.2 826.8,215.6 828.6,217.5 804,218.4" fill="#dfe2ea"/><polygon points="773.4,216.5 779,214.8 786,215.2 784,224 774,222.8" fill="#e2e6ee"/><polygon points="791.5,210.4 796.8,209.6 798.6,213.2 792,213.8" fill="#17171a"/><polygon points="776.5,209.2 781,208.4 782.6,211.4 779,212.6" fill="#1c1c20"/><line x1="780.4" y1="211.6" x2="783.6" y2="215.4" stroke="#2a2a2e" stroke-width="1"/><rect x="789" y="204.4" width="1" height="2.6" fill="#222"/><polygon points="776.6,216.4 783.2,215.8 782.6,219.8 777.4,219.4" fill="#2a9a8c"/><polygon points="782,226.4 800.4,226.9 800.4,228 782,227.5" fill="#2a84e0"/><polygon points="773.6,222.6 776.6,223.2 776.6,224.2 773.6,223.6" fill="#2a84e0"/><rect x="785.6" y="219.2" width="9.2" height="1.5" fill="#e04848"/><path d="M803.8 217 V214.2 H809.4 V217 M814 216.6 V213.4 H825.6 V216.4" fill="none" stroke="#c4d4ea" stroke-width="0.9"/><rect x="811.2" y="222.2" width="5.8" height="11.8" fill="#f2c81c"/><polygon points="811.2,224.4 817,222.2 817,223.6 811.2,225.8" fill="#161616"/><polygon points="811.2,227.3 817,225.1 817,226.5 811.2,228.7" fill="#161616"/><polygon points="811.2,230.2 817,228 817,229.4 811.2,231.6" fill="#161616"/><polygon points="811.2,233.1 817,230.9 817,232.3 811.2,234" fill="#161616"/><polygon points="811.2,234 817,233.8 817,234 811.2,234" fill="#161616"/><rect x="824.6" y="221.4" width="3.9" height="9.4" fill="#f2c81c"/><polygon points="824.6,223.6 828.5,221.4 828.5,222.8 824.6,225" fill="#161616"/><polygon points="824.6,226.5 828.5,224.3 828.5,225.7 824.6,227.9" fill="#161616"/><polygon points="824.6,229.4 828.5,227.2 828.5,228.6 824.6,230.8" fill="#161616"/><polygon points="824.6,230.8 828.5,230.1 828.5,230.8 824.6,230.8" fill="#161616"/><polygon points="818.6,222 823.2,222 823,230.6 820.6,230.8 820.8,226.4 818.8,226" fill="#e03434"/><circle cx="779.8" cy="227.6" r="4.3" fill="#2c2c30"/><circle cx="779.8" cy="227.6" r="2.2" fill="#c8ccd2"/><circle cx="779.8" cy="227.6" r="0.9" fill="#6a6e74"/><circle cx="805.4" cy="230.2" r="5.4" fill="#2c2c30"/><circle cx="805.4" cy="230.2" r="2.9" fill="#c8ccd2"/><circle cx="805.4" cy="230.2" r="1.1" fill="#6a6e74"/><rect x="796.4" y="199.2" width="1.8" height="1.5" fill="#f07820"/><rect x="770.2" y="223.2" width="1.6" height="3" fill="#e8c020"/></g>
<path d="M192 128.7 H282.6 V125.7 L294.2 130.5 L282.6 135.3 V132.3 H192Z" fill="#ff0000"/>
<path d="M303 128.8 H413.1 V125.8 L424.7 130.6 L413.1 135.4 V132.4 H303Z" fill="#ff6600"/>
<path d="M433 128.9 H544.7 V125.9 L556.3 130.7 L544.7 135.5 V132.5 H433Z" fill="#ff9900"/>
<path d="M565 128.8 H736.9 V125.8 L748.5 130.6 L736.9 135.4 V132.4 H565Z" fill="#ffc000"/>
<path d="M758 297.75 H586.2 V294.7 L574.6 299.5 L586.2 304.3 V301.25 H758Z" fill="url(#g67)"/>
<path d="M372 298.95 H213.6 V296 L202 300.8 L213.6 305.6 V302.65 H372Z" fill="#00ffff"/>
<rect x="517.2" y="297.8" width="48" height="3.5" fill="#00ff00"/>
<rect x="428.7" y="297.9" width="4.5" height="3.4" fill="#00ff00"/>
<rect x="436.8" y="297.9" width="4.5" height="3.4" fill="#00ff00"/>
<rect x="444.9" y="297.9" width="4.5" height="3.4" fill="#00ff00"/>
<rect x="453" y="297.9" width="4.5" height="3.4" fill="#00ff00"/>
<rect x="461.1" y="297.9" width="4.5" height="3.4" fill="#00ff00"/>
<rect x="469.2" y="297.9" width="4.5" height="3.4" fill="#00ff00"/>
<rect x="477.3" y="297.9" width="4.5" height="3.4" fill="#00ff00"/>
<rect x="485.4" y="297.9" width="4.5" height="3.4" fill="#00ff00"/>
<rect x="493.5" y="297.9" width="4.5" height="3.4" fill="#00ff00"/>
<rect x="501.6" y="297.9" width="4.5" height="3.4" fill="#00ff00"/>
<rect x="509.7" y="297.9" width="4.5" height="3.4" fill="#00ff00"/>
<path d="M425.3 297.9 H392.8 V294.9 L381.2 299.7 L392.8 304.5 V301.5 H425.3Z" fill="#00ff00"/>
<circle cx="192" cy="130" r="8.4" fill="#0a0408"/><circle cx="192" cy="130" r="7.1" fill="#ff0000"/><circle cx="192" cy="130" r="3.7" fill="#000"/>
<circle cx="303.3" cy="130" r="8.4" fill="#0a0408"/><circle cx="303.3" cy="130" r="7.1" fill="#ff6d00"/><circle cx="303.3" cy="130" r="3.7" fill="#000"/>
<circle cx="433.5" cy="130" r="8.4" fill="#0a0408"/><circle cx="433.5" cy="130" r="7.1" fill="#ffa200"/><circle cx="433.5" cy="130" r="3.7" fill="#000"/>
<circle cx="565.2" cy="130.3" r="8.4" fill="#0a0408"/><circle cx="565.2" cy="130.3" r="7.1" fill="#ffcc00"/><circle cx="565.2" cy="130.3" r="3.7" fill="#000"/>
<circle cx="758.1" cy="130.3" r="8.4" fill="#0a0408"/><circle cx="758.1" cy="130.3" r="7.1" fill="#ffff00"/><circle cx="758.1" cy="130.3" r="3.7" fill="#000"/>
<circle cx="758.1" cy="299.6" r="8.4" fill="#0a0408"/><circle cx="758.1" cy="299.6" r="7.1" fill="#8cff00"/><circle cx="758.1" cy="299.6" r="3.7" fill="#000"/>
<circle cx="565.2" cy="299.7" r="8.4" fill="#0a0408"/><circle cx="565.2" cy="299.7" r="7.1" fill="#00ff00"/><circle cx="565.2" cy="299.7" r="3.7" fill="#000"/>
<circle cx="372" cy="300.4" r="8.4" fill="#0a0408"/><circle cx="372" cy="300.4" r="7.1" fill="#00ffff"/><circle cx="372" cy="300.4" r="3.7" fill="#000"/>
<circle cx="192" cy="300.8" r="8.4" fill="#0a0408"/><circle cx="192" cy="300.8" r="7.1" fill="#0066ff"/><circle cx="192" cy="300.8" r="3.7" fill="#000"/>
<g transform="translate(430.5 289.9)"><ellipse rx="7" ry="6.2" fill="#0f80d2"/><path d="M-4 0C-4 -.7 -3.2 -1 -2.4 -1L-1.2 -1L.9 -4L2 -4L1.4 -1L2.5 -1L3.1 -2L3.8 -2L3.4 0L3.8 2L3.1 2L2.5 1L1.4 1L2 4L.9 4L-1.2 1L-2.4 1C-3.2 1 -4 .7 -4 0Z" fill="#fff"/></g>
<g transform="translate(470.7 289.9)"><ellipse rx="7" ry="6.2" fill="#0f80d2"/><path d="M-4 0C-4 -.7 -3.2 -1 -2.4 -1L-1.2 -1L.9 -4L2 -4L1.4 -1L2.5 -1L3.1 -2L3.8 -2L3.4 0L3.8 2L3.1 2L2.5 1L1.4 1L2 4L.9 4L-1.2 1L-2.4 1C-3.2 1 -4 .7 -4 0Z" fill="#fff"/></g>
<g transform="translate(510.8 289.9)"><ellipse rx="7" ry="6.2" fill="#0f80d2"/><path d="M-4 0C-4 -.7 -3.2 -1 -2.4 -1L-1.2 -1L.9 -4L2 -4L1.4 -1L2.5 -1L3.1 -2L3.8 -2L3.4 0L3.8 2L3.1 2L2.5 1L1.4 1L2 4L.9 4L-1.2 1L-2.4 1C-3.2 1 -4 .7 -4 0Z" fill="#fff"/></g>
<circle cx="192" cy="25" r="4.3" fill="#2d4ca8"/><path d="M190.1 25.4 l1.3 1.5 l2.2 -3.4" fill="none" stroke="#fff" stroke-width="1.05" stroke-linecap="round" stroke-linejoin="round"/>
<circle cx="303" cy="25" r="4.3" fill="#2d4ca8"/><path d="M301.1 25.4 l1.3 1.5 l2.2 -3.4" fill="none" stroke="#fff" stroke-width="1.05" stroke-linecap="round" stroke-linejoin="round"/>
<circle cx="433.2" cy="25" r="4.3" fill="#2d4ca8"/><path d="M431.3 25.4 l1.3 1.5 l2.2 -3.4" fill="none" stroke="#fff" stroke-width="1.05" stroke-linecap="round" stroke-linejoin="round"/>
<circle cx="565.2" cy="10.8" r="4.3" fill="#2d4ca8"/><path d="M563.3 11.2 l1.3 1.5 l2.2 -3.4" fill="none" stroke="#fff" stroke-width="1.05" stroke-linecap="round" stroke-linejoin="round"/>
<circle cx="565.2" cy="25.6" r="4.3" fill="#2d4ca8"/><path d="M563.3 26 l1.3 1.5 l2.2 -3.4" fill="none" stroke="#fff" stroke-width="1.05" stroke-linecap="round" stroke-linejoin="round"/>
<circle cx="372" cy="390.2" r="4.3" fill="#2d4ca8"/><path d="M370.1 390.6 l1.3 1.5 l2.2 -3.4" fill="none" stroke="#fff" stroke-width="1.05" stroke-linecap="round" stroke-linejoin="round"/>
<circle cx="565" cy="389.5" r="4.3" fill="#2d4ca8"/><path d="M563.1 389.9 l1.3 1.5 l2.2 -3.4" fill="none" stroke="#fff" stroke-width="1.05" stroke-linecap="round" stroke-linejoin="round"/>
<circle cx="758" cy="389.3" r="4.3" fill="#2d4ca8"/><path d="M756.1 389.7 l1.3 1.5 l2.2 -3.4" fill="none" stroke="#fff" stroke-width="1.05" stroke-linecap="round" stroke-linejoin="round"/>
<g class="bt"><text y="28.3" font-size="8.75"><tspan class="c" x="205.3">自助行李托运</tspan></text></g>
<g class="bt"><text y="28.3" font-size="8.75"><tspan class="c" x="316">自动行李安检</tspan></text></g>
<g class="bt"><text y="28.3" font-size="8.75"><tspan class="c" x="446.6">自动行李分拣</tspan></text></g>
<g class="bt"><text y="13.9" font-size="8.75"><tspan class="c" x="578">自动确认行李信息</tspan></text></g>
<g class="bt"><text y="29.2" font-size="8.75"><tspan class="c" x="577.6">实时显示行李信息（显示屏）</tspan></text></g>
<g class="bt"><text y="142.8" font-size="8.75"><tspan class="l" x="211.3" font-size="9.5" textLength="21.64" lengthAdjust="spacingAndGlyphs">RFID</tspan><tspan class="c" x="232.94">识别设备</tspan></text></g>
<g class="bt"><text y="155.3" font-size="8.75"><tspan class="c" x="211.3">条形码读取设备</tspan></text></g>
<g class="bt"><text y="142.8" font-size="8.75"><tspan class="c" x="322">六面</tspan><tspan class="l" x="339.5" font-size="9.5" textLength="17.95" lengthAdjust="spacingAndGlyphs">ATR</tspan><tspan class="c" x="357.45">设备</tspan></text></g>
<g class="bt"><text y="155.3" font-size="8.75"><tspan class="l" x="322.3" font-size="9.5" textLength="21.64" lengthAdjust="spacingAndGlyphs">RFID</tspan><tspan class="c" x="343.94">识别设备</tspan></text></g>
<g class="bt"><text y="142.8" font-size="8.75"><tspan class="c" x="452.5">五面</tspan><tspan class="l" x="470" font-size="9.5" textLength="17.95" lengthAdjust="spacingAndGlyphs">ATR</tspan><tspan class="c" x="487.95">设备</tspan></text></g>
<g class="bt"><text y="155.3" font-size="8.75"><tspan class="l" x="452.8" font-size="9.5" textLength="21.64" lengthAdjust="spacingAndGlyphs">RFID</tspan><tspan class="c" x="474.44">识别设备</tspan></text></g>
<g class="bt"><text y="142.8" font-size="8.75"><tspan class="c" x="580">行李自动显示设备</tspan></text></g>
<g class="bt"><text y="155.3" font-size="8.75"><tspan class="c" x="580">多用于离港转盘</tspan></text></g>
<g class="bt"><text y="142.8" font-size="8.75"><tspan class="l" x="666.3" font-size="9.5" textLength="21.64" lengthAdjust="spacingAndGlyphs">RFID</tspan><tspan class="c" x="687.94">到达确认设备</tspan></text></g>
<g class="bt"><text y="155.3" font-size="8.75"><tspan class="c" x="666">多用于离港滑槽</tspan></text></g>
<g class="bt"><text y="356.8" font-size="8.75"><tspan class="l" x="217.3" font-size="9.5" textLength="21.64" lengthAdjust="spacingAndGlyphs">RFID</tspan><tspan class="c" x="238.94">到达确认设备</tspan></text></g>
<g class="bt"><text y="356.8" font-size="8.75"><tspan class="l" x="303.2" font-size="9.5" textLength="17.95" lengthAdjust="spacingAndGlyphs">ATR</tspan><tspan class="c" x="321.15">设备</tspan></text></g>
<g class="bt"><text y="356.8" font-size="8.75"><tspan class="c" x="399">自动换签设备</tspan></text></g>
<g class="bt"><text y="356.8" font-size="8.75"><tspan class="l" x="482.3" font-size="9.5" textLength="21.64" lengthAdjust="spacingAndGlyphs">RFID</tspan><tspan class="c" x="503.94">中转换签设备</tspan></text></g>
<g class="bt"><text y="356.8" font-size="8.75"><tspan class="l" x="588.3" font-size="9.5" textLength="21.64" lengthAdjust="spacingAndGlyphs">RFID</tspan><tspan class="c" x="609.94">通道门设备</tspan></text></g>
<g class="bt"><text y="356.8" font-size="8.75"><tspan class="c" x="669.5">手持</tspan><tspan class="l" x="687" font-size="9.5" textLength="19" lengthAdjust="spacingAndGlyphs">PDA</tspan></text></g>
<g class="bt"><text y="393.8" font-size="8.75"><tspan class="c" x="293.2">实时确认行李信息</tspan></text></g>
<g class="bt"><text y="393.3" font-size="8.75"><tspan class="c" x="486">行李标签自动更换</tspan></text></g>
<g class="bt"><text y="393" font-size="8.75"><tspan class="c" x="696.8">行李标签识别</tspan></text></g>
<g class="hd"><text x="184.75" y="149" font-size="9.9" textLength="22.98" lengthAdjust="spacingAndGlyphs">托运</text></g>
<g class="hd"><text x="288.9" y="149.05" font-size="9.9" textLength="23.82" lengthAdjust="spacingAndGlyphs">安检</text></g>
<g class="hd"><text x="420.2" y="149.1" font-size="9.9" textLength="23.8" lengthAdjust="spacingAndGlyphs">分拣</text></g>
<g class="hd"><text x="550.33" y="149.1" font-size="9.9" textLength="24.72" lengthAdjust="spacingAndGlyphs">离港</text></g>
<g class="hd"><text x="746.81" y="149.7" font-size="9.13" textLength="22.82" lengthAdjust="spacingAndGlyphs">运输</text></g>
<g class="hd"><text x="745.77" y="287.9" font-size="9.68" textLength="22.9" lengthAdjust="spacingAndGlyphs">装机</text></g>
<g class="hd"><text x="551.99" y="287.9" font-size="9.24" textLength="24.36" lengthAdjust="spacingAndGlyphs">中转</text></g>
<g class="hd"><text x="343.94" y="287.9" font-size="9.4" textLength="54.1" lengthAdjust="spacingAndGlyphs">到达/进港</text></g>
<g class="hd"><text x="184.88" y="288.5" font-size="9.9" textLength="47.8" lengthAdjust="spacingAndGlyphs">行李提取</text></g>
<g class="hd"><text x="452.86" y="224.8" font-size="9.35" textLength="42.9" lengthAdjust="spacingAndGlyphs">数据中心</text></g>
<g transform="translate(368.5 136.5) rotate(-31.6)" fill="#b4b4b4" opacity="0.28"><text x="0" y="0" font-size="32" style="font-weight:normal" fill="#b4b4b4" stroke="#b4b4b4" stroke-width="0.5">德泰克</text><text x="104" y="0" font-size="32" style="font-weight:normal" textLength="202" lengthAdjust="spacing" fill="#b4b4b4" stroke="#b4b4b4" stroke-width="0.5">DATATRACK</text></g>
<g transform="translate(366.6 401.5) rotate(-31.8)" fill="#b4b4b4" opacity="0.28"><text x="0" y="0" font-size="32" style="font-weight:normal" fill="#b4b4b4" stroke="#b4b4b4" stroke-width="0.5">德泰克</text><text x="113" y="0" font-size="32" style="font-weight:normal" textLength="202" lengthAdjust="spacing" fill="#b4b4b4" stroke="#b4b4b4" stroke-width="0.5">DATATRACK</text></g>
</svg>
</body>
</html>
